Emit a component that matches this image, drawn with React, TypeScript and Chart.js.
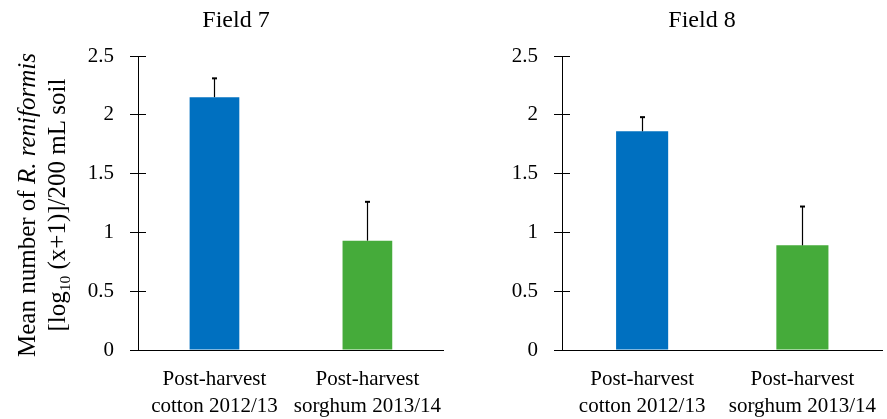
import React, { useEffect, useRef } from "react";
import { Chart, registerables } from "chart.js";

Chart.register(...registerables);

// ---- data ----
const categories: string[][] = [
  ["Post-harvest", "cotton 2012/13"],
  ["Post-harvest", "sorghum 2013/14"],
];
const field7Means = [2.15, 0.93];
const field7Errors = [0.16, 0.33];
const field8Means = [1.86, 0.89];
const field8Errors = [0.12, 0.33];
const barColors = ["#0070C0", "#45AB3A"];
const yTicks = [0, 0.5, 1, 1.5, 2, 2.5];
const yTickLabels = ["0", "0.5", "1", "1.5", "2", "2.5"];
const panelTitles = ["Field 7", "Field 8"];

const SERIF = '"Liberation Serif", "Times New Roman", serif';

const errorBarPlugin = {
  id: "errorBars",
  afterDatasetsDraw(chart: any) {
    const errs: number[] = chart.options.plugins.errorBars?.errors || [];
    const means: number[] = chart.data.datasets[0].data as number[];
    const meta = chart.getDatasetMeta(0);
    const y = chart.scales.y;
    const ctx = chart.ctx;
    ctx.save();
    ctx.strokeStyle = "#000";
    meta.data.forEach((bar: any, i: number) => {
      const x = Math.round(bar.x) + 0.5;
      const top = y.getPixelForValue(means[i] + errs[i]);
      ctx.lineWidth = 1.2;
      ctx.beginPath();
      ctx.moveTo(x, bar.y);
      ctx.lineTo(x, top);
      ctx.stroke();
      ctx.lineWidth = 2;
      ctx.beginPath();
      ctx.moveTo(x - 2.5, top);
      ctx.lineTo(x + 2.5, top);
      ctx.stroke();
    });
    ctx.restore();
  },
};

const innerTickPlugin = {
  id: "innerTicks",
  afterDraw(chart: any) {
    const { ctx, chartArea } = chart;
    const y = chart.scales.y;
    ctx.save();
    ctx.strokeStyle = "#000";
    ctx.lineWidth = 1;
    y.ticks.forEach((t: any) => {
      const p = y.getPixelForValue(t.value);
      const py = Math.round(p - 0.5) + 0.5;
      ctx.beginPath();
      ctx.moveTo(chartArea.left, py);
      ctx.lineTo(chartArea.left + 8, py);
      ctx.stroke();
    });
    ctx.restore();
  },
};

function BarPanel(props: {
  means: number[];
  errors: number[];
  left: number;
  width: number;
  yAxisWidth: number;
}) {
  const ref = useRef<HTMLCanvasElement | null>(null);
  useEffect(() => {
    if (!ref.current) return;
    const chart = new Chart(ref.current, {
      type: "bar",
      data: {
        labels: categories,
        datasets: [
          {
            data: props.means,
            backgroundColor: barColors,
            borderWidth: 0,
            barPercentage: 0.325,
            categoryPercentage: 1,
          },
        ],
      },
      options: {
        animation: false,
        responsive: false,
        maintainAspectRatio: false,
        layout: { padding: { top: 56, left: 0, right: 0, bottom: 0 } },
        plugins: {
          legend: { display: false },
          tooltip: { enabled: false },
          title: { display: false },
          errorBars: { errors: props.errors },
        } as any,
        scales: {
          x: {
            type: "category",
            offset: true,
            grid: { display: true, drawOnChartArea: false, drawTicks: false },
            border: { display: true, color: "#000", width: 1 },
            ticks: {
              color: "#000",
              font: { family: SERIF, size: 21, lineHeight: 1.3 },
              padding: 16,
              maxRotation: 0,
              autoSkip: false,
            },
            afterFit: (s: any) => {
              s.height = 69;
            },
          },
          y: {
            type: "linear",
            min: 0,
            max: 2.5,
            afterBuildTicks: (s: any) => {
              s.ticks = yTicks.map((v) => ({ value: v }));
            },
            ticks: {
              color: "#000",
              font: { family: SERIF, size: 21 },
              padding: 16,
              callback: (_v: any, i: number) => yTickLabels[i],
            },
            grid: {
              display: true,
              drawOnChartArea: false,
              drawTicks: true,
              tickLength: 8,
              color: "#000",
              lineWidth: 1,
            },
            border: { display: true, color: "#000", width: 1 },
            afterFit: (s: any) => {
              s.width = props.yAxisWidth;
            },
          },
        },
      },
      plugins: [errorBarPlugin, innerTickPlugin],
    } as any);
    return () => chart.destroy();
  }, []);
  return (
    <canvas
      ref={ref}
      width={props.width}
      height={419}
      style={{
        position: "absolute",
        left: props.left,
        top: 0,
        width: props.width,
        height: 419,
      }}
    />
  );
}

export default function App() {
  return (
    <div
      style={{
        position: "absolute",
        left: 0,
        top: 0,
        width: 887,
        height: 419,
        overflow: "hidden",
        background: "#fff",
        fontFamily: SERIF,
        color: "#000",
      }}
    >
      <BarPanel means={field7Means} errors={field7Errors} left={0} width={457} yAxisWidth={138} />
      <BarPanel means={field8Means} errors={field8Errors} left={457} width={435} yAxisWidth={105} />
      <div
        style={{
          position: "absolute",
          left: 136,
          top: 7,
          width: 200,
          textAlign: "center",
          fontSize: 24,
          lineHeight: "24px",
        }}
      >
        {panelTitles[0]}
      </div>
      <div
        style={{
          position: "absolute",
          left: 602,
          top: 7,
          width: 200,
          textAlign: "center",
          fontSize: 24,
          lineHeight: "24px",
        }}
      >
        {panelTitles[1]}
      </div>
      <div
        style={{
          position: "absolute",
          left: 42 - 170,
          top: 205 - 30,
          width: 340,
          height: 60,
          textAlign: "center",
          fontSize: 25,
          lineHeight: "30px",
          whiteSpace: "nowrap",
          transform: "rotate(-90deg)",
          transformOrigin: "50% 50%",
        }}
      >
        <div>
          Mean number of <i>R. reniformis</i>
        </div>
        <div>
          [log
          <span style={{ fontSize: "0.62em", position: "relative", top: "0.35em" }}>10</span>
          {" "}(x+1)]/200 mL soil
        </div>
      </div>
    </div>
  );
}
